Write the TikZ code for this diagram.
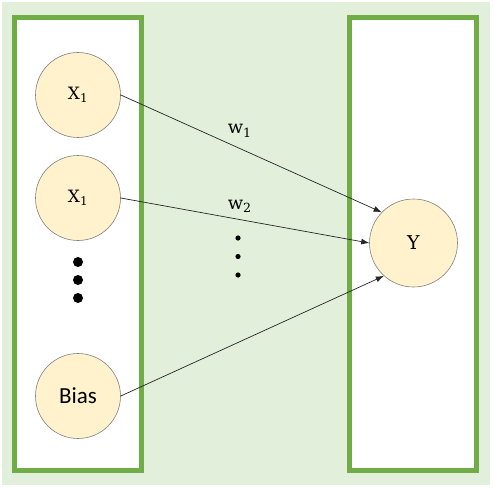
\documentclass[tikz,border=0pt]{standalone}
\usepackage{fontspec}
\setmainfont{Carlito}
\newfontfamily\serif{DejaVu Serif}
\usetikzlibrary{positioning, arrows.meta}

\definecolor{panel}{HTML}{E2EFDA}
\definecolor{frame}{HTML}{70AD47}
\definecolor{cell}{HTML}{FFF2CC}

\begin{document}
\begin{tikzpicture}[x=1pt, y=1pt, node distance=103pt, on grid, >={Latex[length=8pt, width=6pt]},
  neuron/.style={draw=black!50, line width=0.6pt, circle, fill=cell, minimum size=85pt, inner sep=0pt, font=\serif\fontsize{17}{20}\selectfont},
  layer/.style={draw=frame, line width=5pt, fill=white},
  weight/.style={font=\serif\fontsize{18}{22}\selectfont, inner sep=0pt}]
  \useasboundingbox (-78,95) rectangle (416,-392);
  \fill[panel] (-76,93) rectangle (412,-390);
  \draw[layer] (-63.5,77.5) rectangle (63,-375.5);
  \draw[layer] (271.5,77.5) rectangle (398.5,-375.5);

  \node[neuron] (x1) at (0,0) {X\textsubscript{1}};
  \node[neuron, below=of x1] (x2) {X\textsubscript{1}};
  \node[neuron, below=198pt of x2, font=\rmfamily\fontsize{23}{26}\selectfont] (bias) {Bias};
  \node[neuron, minimum size=88pt, right=335.5pt of x1, yshift=-148pt, font=\serif\fontsize{19}{22}\selectfont] (y) {Y};

  % vertical ellipsis
  \foreach \d in {-167,-185,-203} \fill (0,\d) circle (5);
  \foreach \d in {-143,-161.5,-180} \fill (160,\d) circle (2.6);

  \draw[->, line width=0.7pt, black!85] (x1.east) -- node[weight, pos=0.456, yshift=17.5pt, black] {w\textsubscript{1}} (y.136);
  \draw[->, line width=0.7pt, black!85] (x2.east) -- node[weight, pos=0.479, yshift=13pt, black] {w\textsubscript{2}} (y.west);
  \draw[->, line width=0.7pt, black!85] (bias.east) -- (y.228);
\end{tikzpicture}
\end{document}
